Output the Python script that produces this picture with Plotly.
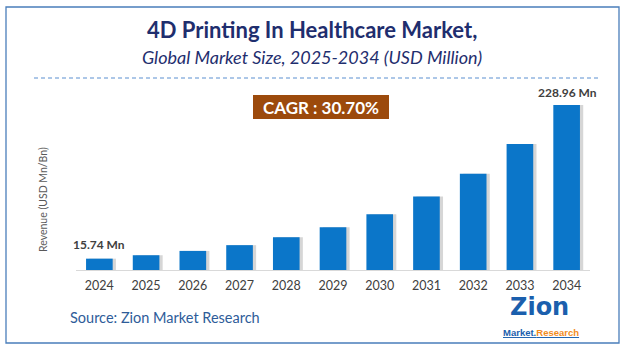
import plotly.graph_objects as go

years = ["2024", "2025", "2026", "2027", "2028", "2029", "2030", "2031", "2032", "2033", "2034"]
values = [15.74, 20.5, 26.5, 34.5, 45.5, 59.5, 77.5, 102.0, 133.5, 175.0, 228.96]
first_label = "15.74 Mn"
last_label = "228.96 Mn"
title = "4D Printing In Healthcare Market,"
subtitle = "Global Market Size, 2025-2034 (USD Million)"
cagr = "CAGR : 30.70%"
y_title = "Revenue (USD Mn/Bn)"
source = "Source: Zion Market Research"

W, H = 625, 353
FONT = "Lato"
Y0, Y1 = 270, 100      # pixel rows of plot bottom / top
YMAX = 236

def px(x):
    return x / W

def py(y):
    return 1 - y / H

def val_to_py(v):
    return py(Y0 - (Y0 - Y1) * v / YMAX)

bw = 0.57
fig = go.Figure()
fig.add_trace(go.Bar(x=years, y=values, width=bw, offset=-bw / 2 + 0.07,
                     marker=dict(color="rgba(0,0,0,0.16)", line=dict(width=0)),
                     hoverinfo="skip", showlegend=False))
fig.add_trace(go.Bar(x=years, y=values, width=bw, offset=-bw / 2,
                     marker=dict(color="#0B76C9", line=dict(width=0)),
                     showlegend=False))

fig.update_layout(
    width=W, height=H,
    margin=dict(l=0, r=0, t=0, b=0),
    paper_bgcolor="white", plot_bgcolor="white",
    barmode="overlay",
    xaxis=dict(domain=[px(76), px(590)], type="category", range=[-0.5, 10.5],
               showgrid=False, zeroline=False, showline=True, linecolor="#D9D9D9", linewidth=1,
               ticks="", tickfont=dict(family=FONT, size=12.5, color="#404040"), ticklabelstandoff=4,
               fixedrange=True),
    yaxis=dict(domain=[py(Y0), py(Y1)], range=[0, YMAX], visible=False, fixedrange=True),
    font=dict(family=FONT),
)

shapes = [
    dict(type="rect", xref="paper", yref="paper", x0=px(6), x1=px(619), y0=py(7), y1=py(343),
         line=dict(color="#4A7EBB", width=1.3), fillcolor="rgba(0,0,0,0)", layer="below"),
    dict(type="line", xref="paper", yref="paper", x0=px(34), x1=px(599), y0=py(78), y1=py(78),
         line=dict(color="#5B8FD0", width=1, dash="4px,3px")),
    dict(type="rect", xref="paper", yref="paper", x0=px(253), x1=px(389), y0=py(95), y1=py(119),
         line=dict(width=0), fillcolor="#9C4A0C"),
]

ann = [
    dict(text="<b>" + title + "</b>", x=px(312), y=py(30), font=dict(size=22, color="#1F2E6E", family=FONT)),
    dict(text="<i>" + subtitle + "</i>", x=px(312), y=py(57), font=dict(size=18, color="#1F2E6E", family=FONT)),
    dict(text="<b>" + cagr + "</b>", x=px(321), y=py(107.5), font=dict(size=17, color="white", family=FONT)),
    dict(text=y_title, x=px(43), y=py(200), textangle=-90, font=dict(size=10.5, color="#595959", family=FONT)),
    dict(text=source, x=px(68), y=py(317), xanchor="left", font=dict(size=14.5, color="#2E5C99", family=FONT)),
    dict(text="<b>Zion</b>", x=px(539), y=py(307), font=dict(size=24, color="#1B5FAD", family="DejaVu Sans")),
    dict(text="<b><u>Market.</u></b><b><u><span style='color:#F28C1E'>Research</span></u></b>", x=px(541), y=py(332),
         font=dict(size=9.5, color="#1B5FAD", family="Liberation Sans")),
    dict(text="<b>" + first_label + "</b>", x=px(99), y=val_to_py(values[0]), yshift=14,
         font=dict(size=12, color="#404040", family=FONT)),
    dict(text="<b>" + last_label + "</b>", x=px(567), y=val_to_py(values[-1]), yshift=13,
         font=dict(size=12, color="#404040", family=FONT)),
]

for a in ann:
    a["xref"] = "paper"
    a["yref"] = "paper"
    a["showarrow"] = False
    a.setdefault("xanchor", "center")
    a.setdefault("yanchor", "middle")

fig.update_layout(shapes=shapes, annotations=ann)
fig.write_html("out.html")
